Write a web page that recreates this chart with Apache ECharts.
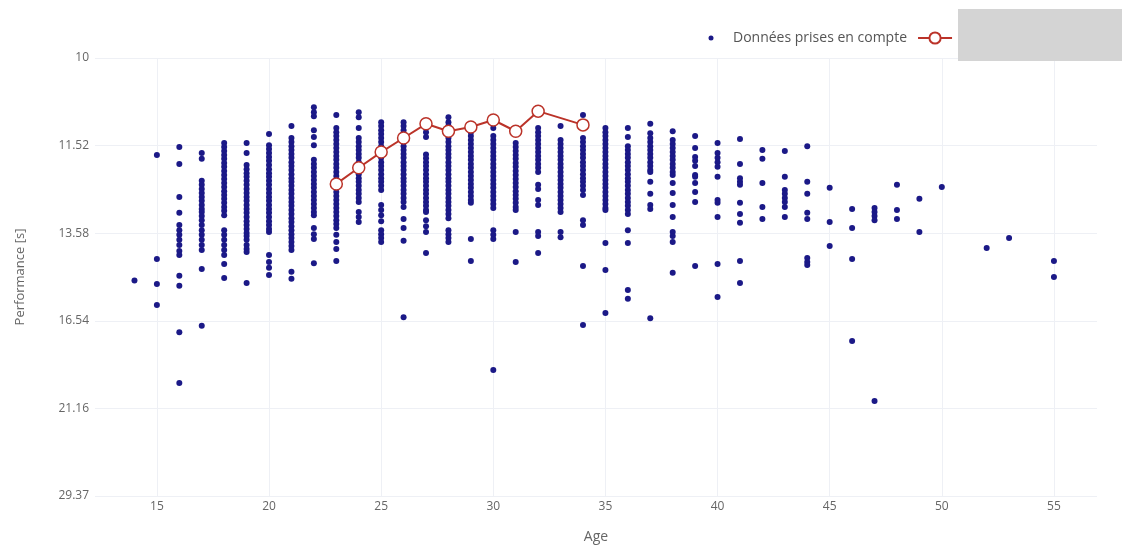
<!DOCTYPE html>
<html>
<head>
<meta charset="utf-8">
<script src="https://cdn.jsdelivr.net/npm/echarts@6/dist/echarts.min.js"></script>
<style>
  html, body { margin: 0; padding: 0; background: #fff; }
  #chart { width: 1137px; height: 546px; }
</style>
</head>
<body>
<div id="chart"></div>
<script>
// tick labels of the y axis, bottom to top (seconds, evenly spaced in speed 100/t)
const yTickLabels = ['29.37', '21.16', '16.54', '13.58', '11.52', '10'];
const xTickValues = [15, 20, 25, 30, 35, 40, 45, 50, 55];

// performances [s] read per age
const t14 = [15.04];
const t15 = [11.71, 14.34, 15.16, 15.92];
const t16 = [11.55, 11.90, 12.65, 13.04, 13.36, 13.50, 13.63, 13.77, 13.92, 14.10, 14.22, 14.88, 15.22, 17.03, 19.58];
const t17 = [11.67, 11.79, 12.27, 12.36, 12.46, 12.55, 12.65, 12.74, 12.84, 12.94, 13.02, 13.12, 13.23, 13.36, 13.50, 13.63, 13.77, 13.92, 14.07, 14.66, 16.76];
const t18 = [11.47, 11.55, 11.63, 11.71, 11.79, 11.88, 11.96, 12.05, 12.14, 12.23, 12.32, 12.41, 12.51, 12.60, 12.69, 12.79, 12.89, 12.99, 13.10, 13.50, 13.63, 13.77, 13.92, 14.07, 14.22, 14.50, 14.95];
const t19 = [11.47, 11.67, 11.92, 12.01, 12.10, 12.18, 12.27, 12.36, 12.46, 12.55, 12.65, 12.74, 12.84, 12.94, 13.04, 13.15, 13.26, 13.36, 13.47, 13.58, 13.66, 13.77, 13.92, 14.04, 14.13, 15.12];
const t20 = [11.29, 11.51, 11.59, 11.67, 11.75, 11.83, 11.92, 12.01, 12.10, 12.18, 12.27, 12.36, 12.46, 12.55, 12.65, 12.74, 12.84, 12.94, 13.04, 13.15, 13.26, 13.36, 13.47, 13.55, 14.22, 14.43, 14.62, 14.85];
const t21 = [11.14, 11.37, 11.45, 11.53, 11.61, 11.69, 11.77, 11.86, 11.94, 12.03, 12.12, 12.21, 12.29, 12.38, 12.48, 12.57, 12.67, 12.77, 12.86, 12.97, 13.07, 13.18, 13.28, 13.39, 13.50, 13.61, 13.72, 13.83, 13.95, 14.07, 14.75, 14.98];
const t22 = [10.80, 10.89, 10.96, 11.22, 11.35, 11.51, 11.81, 11.90, 11.98, 12.07, 12.16, 12.25, 12.34, 12.43, 12.53, 12.62, 12.72, 12.82, 12.92, 13.02, 13.10, 13.44, 13.61, 13.75, 14.47];
const t23 = [10.94, 11.18, 11.26, 11.33, 11.41, 11.49, 11.57, 11.65, 11.73, 11.81, 11.90, 11.98, 12.07, 12.16, 12.25, 12.34, 12.43, 12.53, 12.62, 12.72, 12.82, 12.92, 13.02, 13.12, 13.23, 13.33, 13.44, 13.63, 13.83, 14.04, 14.40];
const t24 = [10.89, 10.98, 11.18, 11.37, 11.45, 11.53, 11.61, 11.69, 11.77, 11.86, 11.94, 12.03, 12.12, 12.21, 12.29, 12.38, 12.48, 12.57, 12.67, 12.77, 13.02, 13.15, 13.28];
const t25 = [11.07, 11.14, 11.22, 11.29, 11.37, 11.45, 11.53, 11.61, 11.69, 11.77, 11.86, 11.94, 12.03, 12.12, 12.21, 12.29, 12.38, 12.48, 12.84, 12.97, 13.10, 13.26, 13.50, 13.61, 13.72, 13.83];
const t26 = [11.07, 11.14, 11.22, 11.29, 11.37, 11.45, 11.53, 11.61, 11.69, 11.77, 11.86, 11.94, 12.03, 12.12, 12.21, 12.29, 12.38, 12.48, 12.57, 12.67, 12.77, 12.89, 13.20, 13.44, 13.80, 16.40];
const t27 = [11.18, 11.26, 11.35, 11.70, 11.78, 11.86, 11.94, 12.03, 12.12, 12.21, 12.29, 12.38, 12.48, 12.57, 12.67, 12.77, 12.86, 12.97, 13.02, 13.23, 13.39, 13.55, 14.16];
const t28 = [10.98, 11.07, 11.14, 11.22, 11.29, 11.37, 11.45, 11.53, 11.61, 11.69, 11.77, 11.86, 11.94, 12.03, 12.12, 12.21, 12.29, 12.38, 12.48, 12.57, 12.67, 12.77, 12.86, 12.97, 13.07, 13.18, 13.50, 13.61, 13.72, 13.83];
const t29 = [11.18, 11.26, 11.33, 11.41, 11.49, 11.57, 11.65, 11.73, 11.81, 11.90, 11.98, 12.07, 12.16, 12.25, 12.34, 12.43, 12.53, 12.62, 12.72, 12.79, 13.75, 14.40];
const t30 = [11.18, 11.33, 11.41, 11.49, 11.57, 11.65, 11.73, 11.81, 11.90, 11.98, 12.07, 12.16, 12.25, 12.34, 12.43, 12.53, 12.62, 12.72, 12.82, 12.92, 13.50, 13.63, 13.75, 18.86];
const t31 = [11.47, 11.55, 11.63, 11.71, 11.79, 11.88, 11.96, 12.05, 12.14, 12.23, 12.32, 12.41, 12.51, 12.60, 12.69, 12.79, 12.89, 12.97, 13.55, 14.43];
const t32 = [11.18, 11.26, 11.33, 11.41, 11.49, 11.57, 11.65, 11.73, 11.81, 11.90, 11.98, 12.07, 12.36, 12.46, 12.72, 12.84, 13.55, 13.66, 14.16];
const t33 = [11.14, 11.41, 11.49, 11.57, 11.65, 11.73, 11.81, 11.90, 11.98, 12.07, 12.16, 12.25, 12.34, 12.43, 12.53, 12.62, 12.72, 12.82, 12.92, 13.02, 13.55, 13.70];
const t34 = [10.94, 11.37, 11.45, 11.53, 11.61, 11.69, 11.77, 11.86, 11.94, 12.03, 12.12, 12.21, 12.29, 12.38, 12.48, 12.60, 13.23, 13.36, 14.56, 16.72];
const t35 = [11.18, 11.26, 11.33, 11.41, 11.49, 11.57, 11.65, 11.73, 11.81, 11.90, 11.98, 12.07, 12.16, 12.25, 12.34, 12.43, 12.53, 12.62, 12.72, 12.82, 12.92, 12.97, 13.86, 14.69, 16.23];
const t36 = [11.18, 11.35, 11.53, 11.61, 11.69, 11.77, 11.86, 11.94, 12.03, 12.12, 12.21, 12.29, 12.38, 12.48, 12.57, 12.67, 12.77, 12.86, 12.97, 13.07, 13.50, 13.86, 15.37, 15.69];
const t37 = [11.10, 11.28, 11.37, 11.45, 11.53, 11.61, 11.69, 11.77, 11.86, 11.94, 12.03, 12.07, 12.29, 12.57, 12.84, 12.94, 16.44];
const t38 = [11.24, 11.41, 11.49, 11.57, 11.65, 11.73, 11.81, 11.90, 11.98, 12.07, 12.14, 12.32, 12.55, 12.84, 13.15, 13.55, 13.66, 13.83, 14.78];
const t39 = [11.33, 11.57, 11.75, 11.83, 11.94, 12.14, 12.18, 12.32, 12.53, 12.77, 14.56];
const t40 = [11.47, 11.67, 11.77, 11.86, 11.96, 12.18, 12.72, 12.79, 13.15, 14.50, 15.62];
const t41 = [11.39, 11.90, 12.21, 12.29, 12.36, 12.79, 13.07, 13.30, 14.40, 15.12];
const t42 = [11.61, 11.79, 12.32, 12.89, 13.20];
const t43 = [11.63, 12.18, 12.48, 12.57, 12.67, 12.77, 12.89, 13.15];
const t44 = [11.53, 12.29, 12.57, 13.04, 13.20, 14.31, 14.43, 14.53];
const t45 = [12.43, 13.28, 13.95];
const t46 = [12.94, 13.44, 14.34, 17.43];
const t47 = [12.92, 13.02, 13.12, 13.23, 20.68];
const t48 = [12.36, 12.97, 13.20];
const t49 = [12.69, 13.55];
const t50 = [12.41];
const t52 = [14.01];
const t53 = [13.72];
const t55 = [14.40, 14.92];

const ages = [14, 15, 16, 17, 18, 19, 20, 21, 22, 23, 24, 25, 26, 27, 28, 29, 30, 31, 32, 33, 34,
  35, 36, 37, 38, 39, 40, 41, 42, 43, 44, 45, 46, 47, 48, 49, 50, 52, 53, 55];
const timesByAge = [t14, t15, t16, t17, t18, t19, t20, t21, t22, t23, t24, t25, t26, t27, t28, t29, t30, t31, t32, t33, t34,
  t35, t36, t37, t38, t39, t40, t41, t42, t43, t44, t45, t46, t47, t48, t49, t50, t52, t53, t55];

// red line
const lineAges = [23, 24, 25, 26, 27, 28, 29, 30, 31, 32, 34];
const lineTimes = [12.34, 11.98, 11.65, 11.37, 11.10, 11.24, 11.16, 11.03, 11.24, 10.87, 11.12];

// axis is linear in 100/t, ticks 0..5 map to yTickLabels
const slow = 29.37, fast = 10;
const step = (100 / fast - 100 / slow) / 5;
const toAxis = t => (100 / t - 100 / slow) / step;

const scatterData = [];
ages.forEach((a, i) => {
  timesByAge[i].forEach(t => scatterData.push([a, toAxis(t)]));
});
const lineData = lineAges.map((a, i) => [a, toAxis(lineTimes[i])]);

const font = 'Open Sans';
const chart = echarts.init(document.getElementById('chart'));
chart.setOption({
  animation: false,
  textStyle: { fontFamily: font },
  grid: { left: 95, right: 40, top: 58, bottom: 50, containLabel: false, outerBoundsMode: 'none' },
  legend: {
    left: 689,
    top: 26,
    itemWidth: 34,
    itemHeight: 14,
    itemGap: 10,
    textStyle: { color: '#555', fontSize: 14, fontFamily: font },
    data: [
      { name: 'Données prises en compte', icon: 'path://M0 0M34 14M19.5 7A2.5 2.5 0 1 1 14.5 7A2.5 2.5 0 1 1 19.5 7Z' },
      { name: 'Record par âge' }
    ]
  },
  xAxis: {
    type: 'value',
    min: 12.24,
    max: 56.92,
    name: 'Age',
    nameLocation: 'middle',
    nameGap: 34,
    nameTextStyle: { color: '#666', fontSize: 14 },
    axisLine: { show: false },
    axisTick: { show: false, customValues: xTickValues },
    axisLabel: { customValues: xTickValues, color: '#666', fontSize: 12, margin: 5 },
    splitLine: { show: true, lineStyle: { color: '#eef0f5', width: 1 } }
  },
  yAxis: {
    type: 'value',
    min: 0,
    max: 5,
    interval: 1,
    name: 'Performance [s]',
    nameLocation: 'middle',
    nameGap: 68,
    nameTextStyle: { color: '#666', fontSize: 13 },
    axisLine: { show: false },
    axisTick: { show: false },
    axisLabel: {
      color: '#666', fontSize: 12, margin: 6,
      formatter: v => yTickLabels[Math.round(v)]
    },
    splitLine: { show: true, lineStyle: { color: '#eef0f5', width: 1 } }
  },
  series: [
    {
      name: 'Données prises en compte',
      type: 'scatter',
      data: scatterData,
      symbolSize: 6,
      itemStyle: { color: '#1b1987', opacity: 1 },
      z: 2
    },
    {
      name: 'Record par âge',
      type: 'line',
      data: lineData,
      symbol: 'circle',
      symbolSize: 12,
      lineStyle: { color: '#bb3329', width: 2 },
      itemStyle: { color: '#fff', borderColor: '#bb3329', borderWidth: 1.5 },
      z: 3
    }
  ],
  graphic: [
    {
      type: 'rect',
      left: 958,
      top: 9,
      z: 100,
      shape: { width: 164, height: 52 },
      style: { fill: '#d4d4d4' }
    }
  ]
});
</script>
</body>
</html>
